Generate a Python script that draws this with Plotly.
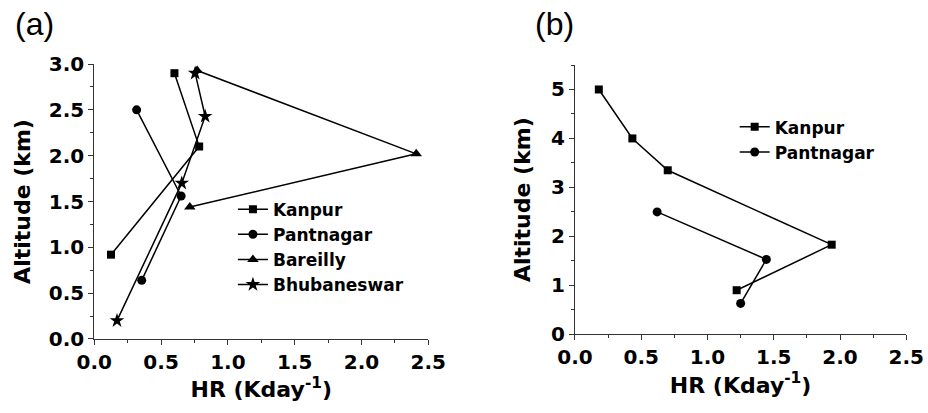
import plotly.graph_objects as go

# Panel (a) data
a_kanpur_x = [0.60, 0.785, 0.125]
a_kanpur_y = [2.90, 2.10, 0.92]
a_pant_x = [0.317, 0.65, 0.355]
a_pant_y = [2.50, 1.56, 0.64]
a_bar_x = [0.77, 2.41, 0.715]
a_bar_y = [2.93, 2.02, 1.44]
a_bhu_x = [0.17, 0.655, 0.83, 0.755]
a_bhu_y = [0.20, 1.70, 2.43, 2.90]

# Panel (b) data
b_kanpur_x = [0.18, 0.433, 0.70, 1.937, 1.22]
b_kanpur_y = [5.00, 4.00, 3.35, 1.83, 0.90]
b_pant_x = [0.62, 1.444, 1.25]
b_pant_y = [2.50, 1.53, 0.63]

x_ticks = [0.0, 0.5, 1.0, 1.5, 2.0, 2.5]
a_y_ticks = [0.0, 0.5, 1.0, 1.5, 2.0, 2.5, 3.0]
b_y_ticks = [0, 1, 2, 3, 4, 5]

FONT = "DejaVu Sans, sans-serif"
LABEL_FONT = "Liberation Sans, Arial, sans-serif"
LINE = dict(color="black", width=1.5)

fig = go.Figure()

def add(x, y, name, symbol, size, xa, ya, legend):
    fig.add_trace(go.Scatter(
        x=x, y=y, name=name, mode="lines+markers",
        line=LINE,
        marker=dict(symbol=symbol, size=size, color="black"),
        xaxis=xa, yaxis=ya, legend=legend, cliponaxis=False))

add(a_kanpur_x, a_kanpur_y, "Kanpur", "square", 8, "x", "y", "legend")
add(a_pant_x, a_pant_y, "Pantnagar", "circle", 9, "x", "y", "legend")
add(a_bar_x, a_bar_y, "Bareilly", "triangle-up", 10, "x", "y", "legend")
add(a_bhu_x, a_bhu_y, "Bhubaneswar", "star", 11, "x", "y", "legend")
add(b_kanpur_x, b_kanpur_y, "Kanpur", "square", 8, "x2", "y2", "legend2")
add(b_pant_x, b_pant_y, "Pantnagar", "circle", 9, "x2", "y2", "legend2")

tickfont = dict(family=FONT, size=20, color="black", weight="bold")
titlefont = dict(family=FONT, size=22, color="black", weight="bold")
legfont = dict(family=FONT, size=17, color="black", weight="bold")

def axis_common():
    return dict(showgrid=False, zeroline=False, showline=True, linecolor="#333",
                linewidth=1, ticks="outside", ticklen=5, tickcolor="#333",
                tickfont=tickfont, mirror=False, automargin=False)

fig.update_layout(
    width=928, height=413,
    margin=dict(l=0, r=0, t=0, b=0),
    plot_bgcolor="white", paper_bgcolor="white",
    showlegend=True,
    xaxis=dict(**axis_common(), domain=[0.1016, 0.4615], range=[0, 2.5],
               tickvals=x_ticks, ticktext=[f"{v:.1f}" for v in x_ticks],
               minor=dict(dtick=0.25, ticks="outside", ticklen=3, tickcolor="#333"),
               title=dict(text="HR (Kday<sup>-1</sup>)", font=titlefont, standoff=4),
               anchor="y"),
    yaxis=dict(**axis_common(), domain=[0.1792, 0.845], range=[0, 3.0],
               tickvals=a_y_ticks, ticktext=[f"{v:.1f}" for v in a_y_ticks],
               minor=dict(dtick=0.25, ticks="outside", ticklen=3, tickcolor="#333"),
               title=dict(text="Altitude (km)", font=titlefont, standoff=12),
               anchor="x"),
    xaxis2=dict(**axis_common(), domain=[0.6196, 0.9766], range=[0, 2.5],
                tickvals=x_ticks, ticktext=[f"{v:.1f}" for v in x_ticks],
                minor=dict(dtick=0.25, ticks="outside", ticklen=3, tickcolor="#333"),
                title=dict(text="HR (Kday<sup>-1</sup>)", font=titlefont, standoff=4),
                anchor="y2"),
    yaxis2=dict(**axis_common(), domain=[0.1906, 0.8426], range=[0, 5.5],
                tickvals=b_y_ticks, ticktext=[str(v) for v in b_y_ticks],
                minor=dict(dtick=0.5, ticks="outside", ticklen=3, tickcolor="#333"),
                title=dict(text="Altitude (km)", font=titlefont, standoff=14),
                anchor="x2"),
    legend=dict(x=0.251, y=0.536, xanchor="left", yanchor="top",
                font=legfont, bgcolor="rgba(0,0,0,0)", tracegroupgap=0, itemwidth=30),
    legend2=dict(x=0.7917, y=0.7353, xanchor="left", yanchor="top",
                 font=legfont, bgcolor="rgba(0,0,0,0)", tracegroupgap=0, itemwidth=30),
    annotations=[
        dict(text="(a)", x=34/928, y=1-24/413, xref="paper", yref="paper",
             showarrow=False, xanchor="center", yanchor="middle",
             font=dict(family=LABEL_FONT, size=32, color="black")),
        dict(text="(b)", x=554/928, y=1-24/413, xref="paper", yref="paper",
             showarrow=False, xanchor="center", yanchor="middle",
             font=dict(family=LABEL_FONT, size=32, color="black")),
    ],
)

fig.write_html("out.html",
               config={"displayModeBar": False},
               post_script="document.body.style.margin='0';document.body.style.overflow='hidden';")
